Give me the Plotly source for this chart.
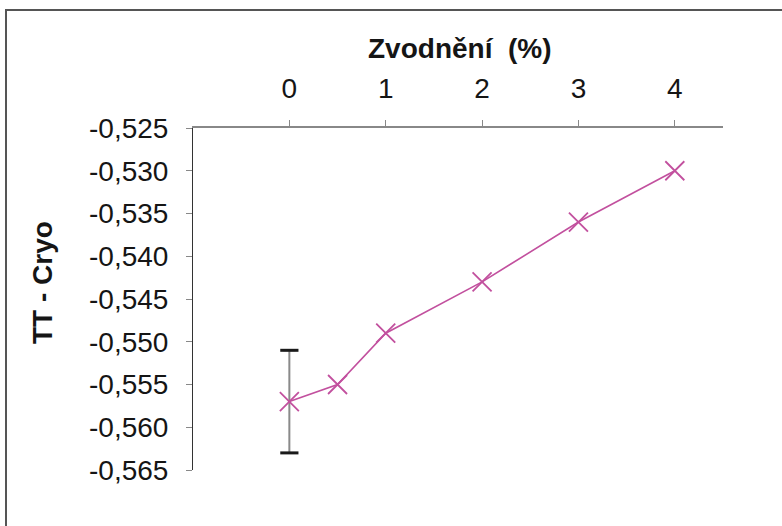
import plotly.graph_objects as go

# Data
zvodneni = [0, 0.5, 1, 2, 3, 4]
tt_cryo = [-0.557, -0.555, -0.549, -0.543, -0.536, -0.530]
chyba = [0.006, 0, 0, 0, 0, 0]

x_ticks = [0, 1, 2, 3, 4]
y_ticks = [-0.525, -0.530, -0.535, -0.540, -0.545, -0.550, -0.555, -0.560, -0.565]
y_ticktext = [f"{v:.3f}".replace(".", ",") for v in y_ticks]

FONT = "Liberation Sans, Arial, sans-serif"
MAGENTA = "#C2509E"

fig = go.Figure()

# error bar stem (gray)
fig.add_trace(go.Scatter(
    x=zvodneni[:1], y=tt_cryo[:1], mode="markers",
    marker=dict(size=1, color="rgba(0,0,0,0)"),
    error_y=dict(type="data", array=chyba[:1], color="#8a8a8a",
                 thickness=2, width=6),
    showlegend=False, hoverinfo="skip",
))
# black caps of the error bar
caps_x = [zvodneni[0], zvodneni[0]]
caps_y = [tt_cryo[0] + chyba[0], tt_cryo[0] - chyba[0]]
fig.add_trace(go.Scatter(
    x=caps_x, y=caps_y, mode="markers",
    marker=dict(symbol="line-ew", size=13, line=dict(color="#1a1a1a", width=3)),
    showlegend=False, hoverinfo="skip",
))

fig.add_trace(go.Scatter(
    x=zvodneni, y=tt_cryo, mode="lines+markers",
    line=dict(color=MAGENTA, width=1.6),
    marker=dict(symbol="x-thin", size=19, line=dict(color=MAGENTA, width=1.8)),
    showlegend=False,
))

fig.update_layout(
    width=782, height=526,
    margin=dict(l=193, r=59, t=128, b=56),
    paper_bgcolor="white", plot_bgcolor="white",
    font=dict(family=FONT, size=28, color="#151515"),
    xaxis=dict(
        side="top", range=[-1, 4.5], tickvals=x_ticks,
        showgrid=False, zeroline=False,
        showline=True, linecolor="#888", linewidth=2,
        ticks="outside", ticklen=6, tickcolor="#888", tickwidth=1,
        ticklabelstandoff=11,
    ),
    yaxis=dict(
        range=[-0.565, -0.525], tickvals=y_ticks, ticktext=y_ticktext,
        showgrid=False, zeroline=False,
        showline=True, linecolor="#333", linewidth=1,
        ticks="outside", ticklen=6, tickcolor="#888", tickwidth=1,
        ticklabelstandoff=12,
    ),
    annotations=[
        dict(text="<b>Zvodnění  (%)</b>", xref="paper", yref="paper",
             x=(460 - 193) / 530, y=1 + (128 - 48) / 342, xanchor="center", yanchor="middle",
             showarrow=False, font=dict(family=FONT, size=28, color="#151515")),
        dict(text="<b>TT - Cryo</b>", xref="paper", yref="paper",
             x=(42 - 193) / 530, y=(470 - 283) / 342, xanchor="center", yanchor="middle",
             textangle=-90, showarrow=False,
             font=dict(family=FONT, size=28, color="#151515")),
    ],
    shapes=[
        dict(type="rect", xref="paper", yref="paper",
             x0=(6 - 193) / 530, x1=(800 - 193) / 530,
             y0=(470 - 560) / 342, y1=1 + (128 - 10) / 342,
             line=dict(color="#555", width=2), layer="below"),
    ],
)

fig.write_html("out.html", config={"displayModeBar": False},
               post_script="document.body.style.margin='0px';")
